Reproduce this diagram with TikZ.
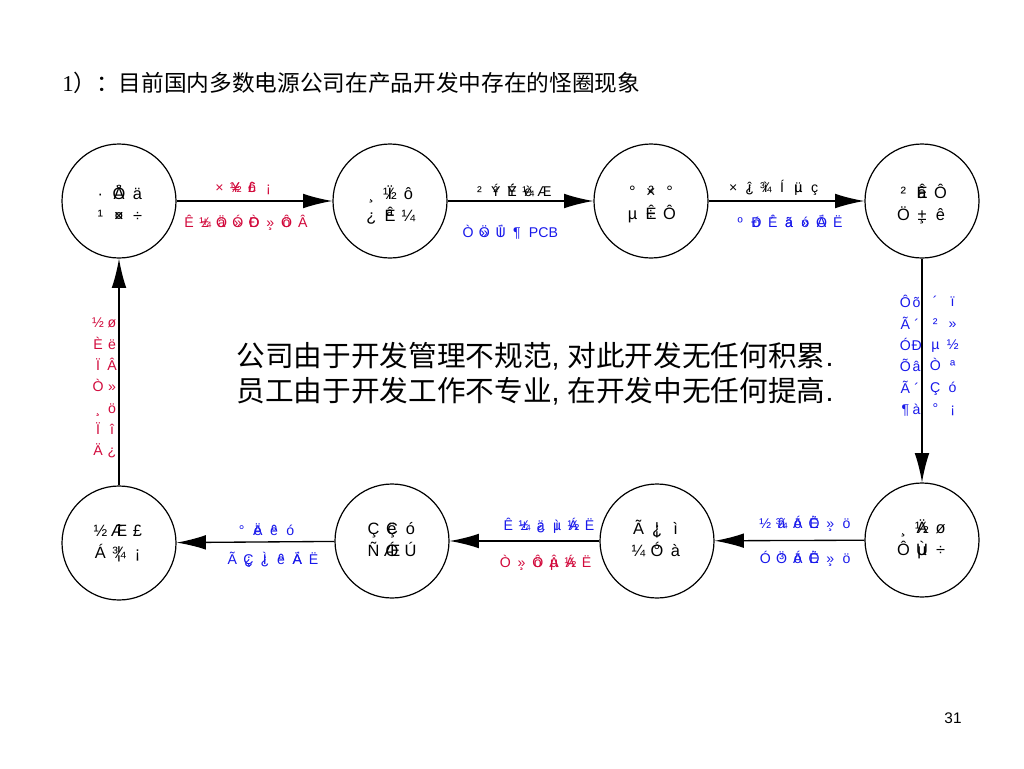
\documentclass[tikz,border=0pt]{standalone}
\usepackage{fontspec}
\setmainfont{Liberation Sans}
\newfontfamily\cjk{Noto Sans CJK SC}
\newfontfamily\serifnum{Liberation Serif}
\usetikzlibrary{arrows.meta}
\definecolor{lred}{RGB}{210,10,60}
\definecolor{lblue}{RGB}{25,25,235}
\newlength\cw
\newcommand\xgA[1]{\makebox[\cw][c]{#1}}
\newcommand\xgB[2]{\makebox[\cw][c]{\makebox[0pt][c]{#1}\makebox[0pt][c]{#2}}}
\newcommand\xst[3]{\raisebox{#1}[0pt][0pt]{\begin{tabular}{@{}c@{}}#2\\#3\end{tabular}}}
\begin{document}
\begin{tikzpicture}[x=0.75pt,y=-0.75pt,
  state/.style={circle,draw,line width=0.9pt,minimum size=85.5pt,inner sep=0pt,
    font=\fontsize{12.3}{16.5}\selectfont\setlength\cw{13.9pt}},
  lab/.style={inner sep=0pt,font=\fontsize{10.6}{12}\selectfont\setlength\cw{12.2pt}},
  vlab/.style={inner sep=0pt,align=center,font=\fontsize{10.6}{16}\selectfont\setlength\cw{#1}},
  arr/.style={line width=1pt,-{Latex[length=22pt,width=11pt]}}]
\fill[white] (0,0) rectangle (1024,768);
\path[use as bounding box] (0,0) rectangle (1024,768);

% title
\node[anchor=west,inner sep=0pt,font=\fontsize{17}{20}\selectfont] (title) at (62,83)
  {{\serifnum 1}{\cjk ）：目前国内多数电源公司在产品开发中存在的怪圈现象}};

% states
\node[state] (c1) at (119,201) {\xst{-6.5pt}{\xgA{·}\xgB{Ö}{Å}\xgA{ä}}{\xgA{¹}\xgB{¤}{×}\xgA{÷}}};
\node[state] (c2) at (390,201) {\xst{-6.5pt}{\xgA{¸}\xgB{Ï}{½}\xgA{ô}}{\xgA{¿}\xgB{ª}{Ê}\xgA{¼}}};
\node[state] (c3) at (651,201) {\xst{-5pt}{\xgA{°}\xgB{²}{×}\xgA{°}}{\xgA{µ}\xgB{÷}{Ê}\xgA{Ô}}};
\node[state] (c4) at (922,201) {\xst{-6pt}{\xgA{²}\xgB{â}{Ê}\xgA{Ô}}{\xgA{Ö}\xgB{¸}{±}\xgA{ê}}};
\node[state] (c5) at (922,540) {\xst{-3pt}{\xgA{¸}\xgB{Ä}{½}\xgA{ø}}{\xgA{Ô}\xgB{Ù}{µ}\xgA{÷}}};
\node[state] (c6) at (657,541) {\xst{-3pt}{\xgA{Ã}\xgB{¦}{¿}\xgA{ì}}{\xgA{¼}\xgB{Ó}{°}\xgA{à}}};
\node[state] (c7) at (392,541) {\xst{-3pt}{\xgA{Ç}\xgB{ë}{Ç}\xgA{ó}}{\xgA{Ñ}\xgB{Ó}{Æ}\xgA{Ú}}};
\node[state] (c8) at (119,543) {\xst{-3pt}{\xgA{½}\xgB{î}{Æ}\xgA{£}}{\xgA{Á}\xgB{¦}{¾}\xgA{¡}}};

% connectors
\draw[arr] (c1) -- (c2);
\draw[arr] (c2) -- (c3);
\draw[arr] (c3) -- (c4);
\draw[arr] (c4) -- (c5);
\draw[arr] (c5) -- (c6);
\draw[arr] (c6) -- (c7);
\draw[arr] (c7) -- (c8);
\draw[arr] (c8) -- (c1);

% edge labels, top row
\node[lab,text=lred] (l12a) at (244,188) {\xgA{×}\xgB{¥}{½}\xgB{ô}{£}\xgA{¡}};
\node[lab,text=lred] (l12b) at (246,223) {\xgA{Ê}\xgB{±}{¼}\xgB{ä}{Ö}\xgB{»}{Ó}\xgB{Ð}{Ò}\xgB{»}{¸}\xgB{ö}{Ô}\xgA{Â}};
\node[lab,text=black] (l23a) at (512,190) {\xgA{²}\xgB{Ý}{²}\xgB{Ý}{É}\xgB{è}{¼}\xgA{Æ}};
\node[lab,text=lblue] (l23b) at (509,232) {\xgA{Ò}\xgB{»}{Ö}\xgB{Ü}{Í}\xgA{¶} PCB};
\node[lab,text=black] (l34a) at (774,188) {\xgA{×}\xgB{î}{¿}\xgB{ì}{¾}\xgA{Í}\xgB{ü}{µ}\xgA{ç}};
\node[lab,text=lblue] (l34b) at (789,221) {\xgA{º}\xgB{ó}{Ð}\xgB{´}{Ê}\xgB{ä}{ã}\xgB{ó}{»}\xgB{Ö}{Á}\xgA{Ë}};

% edge labels, bottom row
\node[lab,text=lblue] (l56a) at (806,524) {\xgA{½}\xgB{â}{¾}\xgB{ö}{Á}\xgB{Ë}{Ò}\xgB{»}{¸}\xgA{ö}};
\node[lab,text=lblue] (l56b) at (806,559) {\xgA{Ó}\xgB{Ö}{³}\xgB{ö}{Á}\xgB{Ë}{Ò}\xgB{»}{¸}\xgA{ö}};
\node[lab,text=lblue] (l67a) at (549,526) {\xgA{Ê}\xgB{±}{¼}\xgB{ä}{¿}\xgB{ì}{µ}\xgB{½}{Á}\xgA{Ë}};
\node[lab,text=lred] (l67b) at (546,563) {\xgA{Ò}\xgB{»}{¸}\xgB{ö}{Ô}\xgB{Â}{µ}\xgB{½}{Á}\xgA{Ë}};
\node[lab,text=lblue] (l78a) at (266,530) {\xgA{°}\xgB{ë}{Ä}\xgB{ê}{º}\xgA{ó}};
\node[lab,text=lblue] (l78b) at (273,560) {\xgA{Ã}\xgB{Ç}{¿}\xgB{¿}{Ì}\xgB{ê}{º}\xgB{Ä}{Á}\xgA{Ë}};

% vertical labels, right
\node[vlab=8.5pt,text=lblue] (l45a) at (911,356)
  {\xgA{Ô}\xgA{õ}\\\xgA{Ã}\xgA{´}\\\xgA{Ó}\xgA{Ð}\\\xgA{Õ}\xgA{â}\\\xgA{Ã}\xgA{´}\\\xgA{¶}\xgA{à}};
\node[vlab=13pt,text=lblue] (l45b) at (944,356)
  {\xgA{´}\xgA{ï}\\\xgA{²}\xgA{»}\\\xgA{µ}\xgA{½}\\\xgA{Ò}\xgA{ª}\\\xgA{Ç}\xgA{ó}\\\xgA{°}\xgA{¡}};

% vertical label, left
\node[vlab=10.5pt,text=lred] (l81) at (105,388)
  {\xgA{½}\xgA{ø}\\\xgA{È}\xgA{ë}\\\xgA{Ï}\xgA{Â}\\\xgA{Ò}\xgA{»}\\\xgA{¸}\xgA{ö}\\\xgA{Ï}\xgA{î}\\\xgA{Ä}\xgA{¿}};

% centre text
\node[inner sep=0pt,align=center,font=\fontsize{21.5}{26.3}\selectfont] (note) at (535,374)
  {{\cjk 公司由于开发管理不规范}, {\cjk 对此开发无任何积累}.\\
   {\cjk 员工由于开发工作不专业}, {\cjk 在开发中无任何提高}.};

% page number
\node[inner sep=0pt,font=\fontsize{11.5}{13}\selectfont] (page) at (953,718) {31};
\end{tikzpicture}
\end{document}
